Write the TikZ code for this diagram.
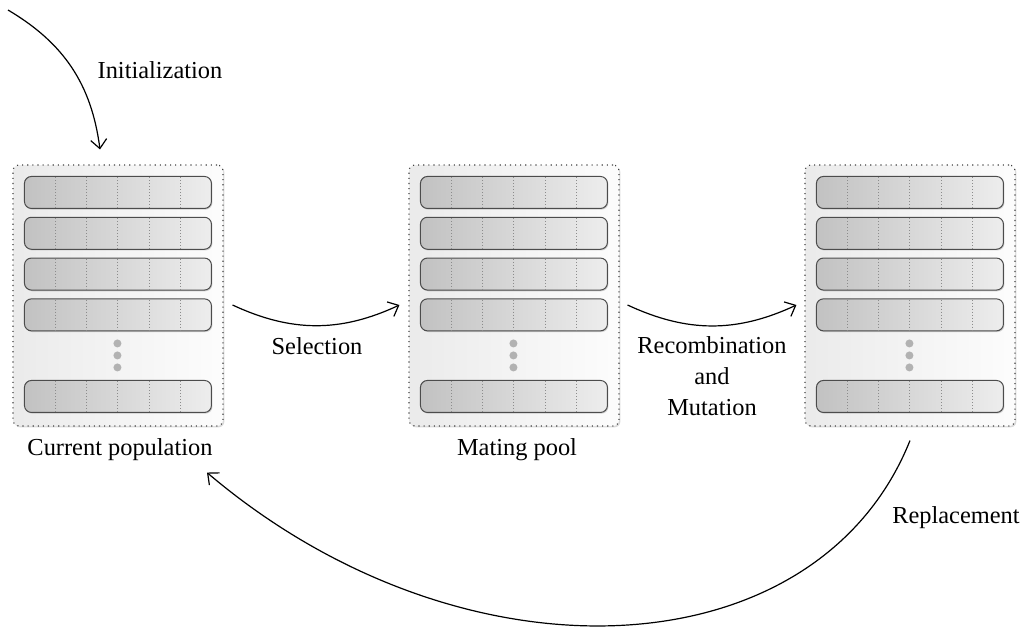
\documentclass[tikz,border=0pt]{standalone}
\usepackage{fontspec}
\setmainfont{Liberation Serif}
\usetikzlibrary{arrows.meta,shadows,calc}

\tikzset{
  lbl/.style={font=\fontsize{12.2}{15.5}\selectfont, inner sep=0pt},
  popbox/.style={draw=black!75, dotted, line width=0.55pt, rounded corners=3pt,
    left color=black!8, right color=black!1,
    minimum width=105pt, minimum height=130.5pt, inner sep=0pt,
    drop shadow={shadow xshift=0.7pt, shadow yshift=-0.7pt, opacity=0.3}},
  rowbox/.style={draw=black!70, line width=0.5pt, rounded corners=3.5pt,
    left color=black!24, right color=black!7,
    drop shadow={shadow xshift=0.5pt, shadow yshift=-0.6pt, opacity=0.35}},
  celldiv/.style={draw=black!45, densely dotted, line width=0.5pt},
  dotc/.style={fill=black!30},
  flow/.style={draw=black, line width=0.6pt, -{Straight Barb[length=4.5pt,width=8pt]}},
  pics/chromosomes/.style={code={
    \foreach \t in {12,52.8,93.6,134.4,216}{
      \path[rowbox] (12,\t) rectangle (199,{\t+32});
      \foreach \k in {1,...,5}
        \draw[celldiv] ({12+\k*31.17},{\t+0.8}) -- ({12+\k*31.17},{\t+31.2});
    }
    \foreach \d in {179,191,203}
      \fill[dotc] (105,\d) circle (2pt);
  }}
}

\begin{document}
\begin{tikzpicture}[x=0.5pt, y=-0.5pt]
  \useasboundingbox (0,0) rectangle (1025,632);

  % the three populations
  \node[popbox] (b1) at (118,295.5) {};
  \node[popbox] (b2) at (514,295.5) {};
  \node[popbox] (b3) at (910,295.5) {};
  \pic at (b1.north west) {chromosomes};
  \pic at (b2.north west) {chromosomes};
  \pic at (b3.north west) {chromosomes};

  % captions
  \node[lbl, anchor=base] (cur) at (120,455) {Current population};
  \node[lbl, anchor=base] (mat) at (517,455) {Mating pool};
  \node[lbl, anchor=base] (sel) at (317,354) {Selection};
  \node[lbl, anchor=base, align=center] (rec) at (712,415) {Recombination\\and\\Mutation};
  \node[lbl, anchor=base] (ini) at (160,78) {Initialization};
  \node[lbl, anchor=base] (rep) at (956,523) {Replacement};

  % flow of the algorithm
  \coordinate (start) at (8,10);
  \draw[flow] (start) to[bend left=26] ($(b1.north)+(-18,-15)$);
  \draw[flow] ($(b1.east)+(9,9.5)$) to[bend right=25] ($(b2.west)+(-9,9.5)$);
  \draw[flow] ($(b2.east)+(8,9.5)$) to[bend right=25] ($(b3.west)+(-8,9.5)$);
  \draw[flow] ($(b3.south)+(0,14)$) .. controls +(-93,232) and +(257,218) .. ($(b1.south)+(89,46)$);
\end{tikzpicture}
\end{document}
